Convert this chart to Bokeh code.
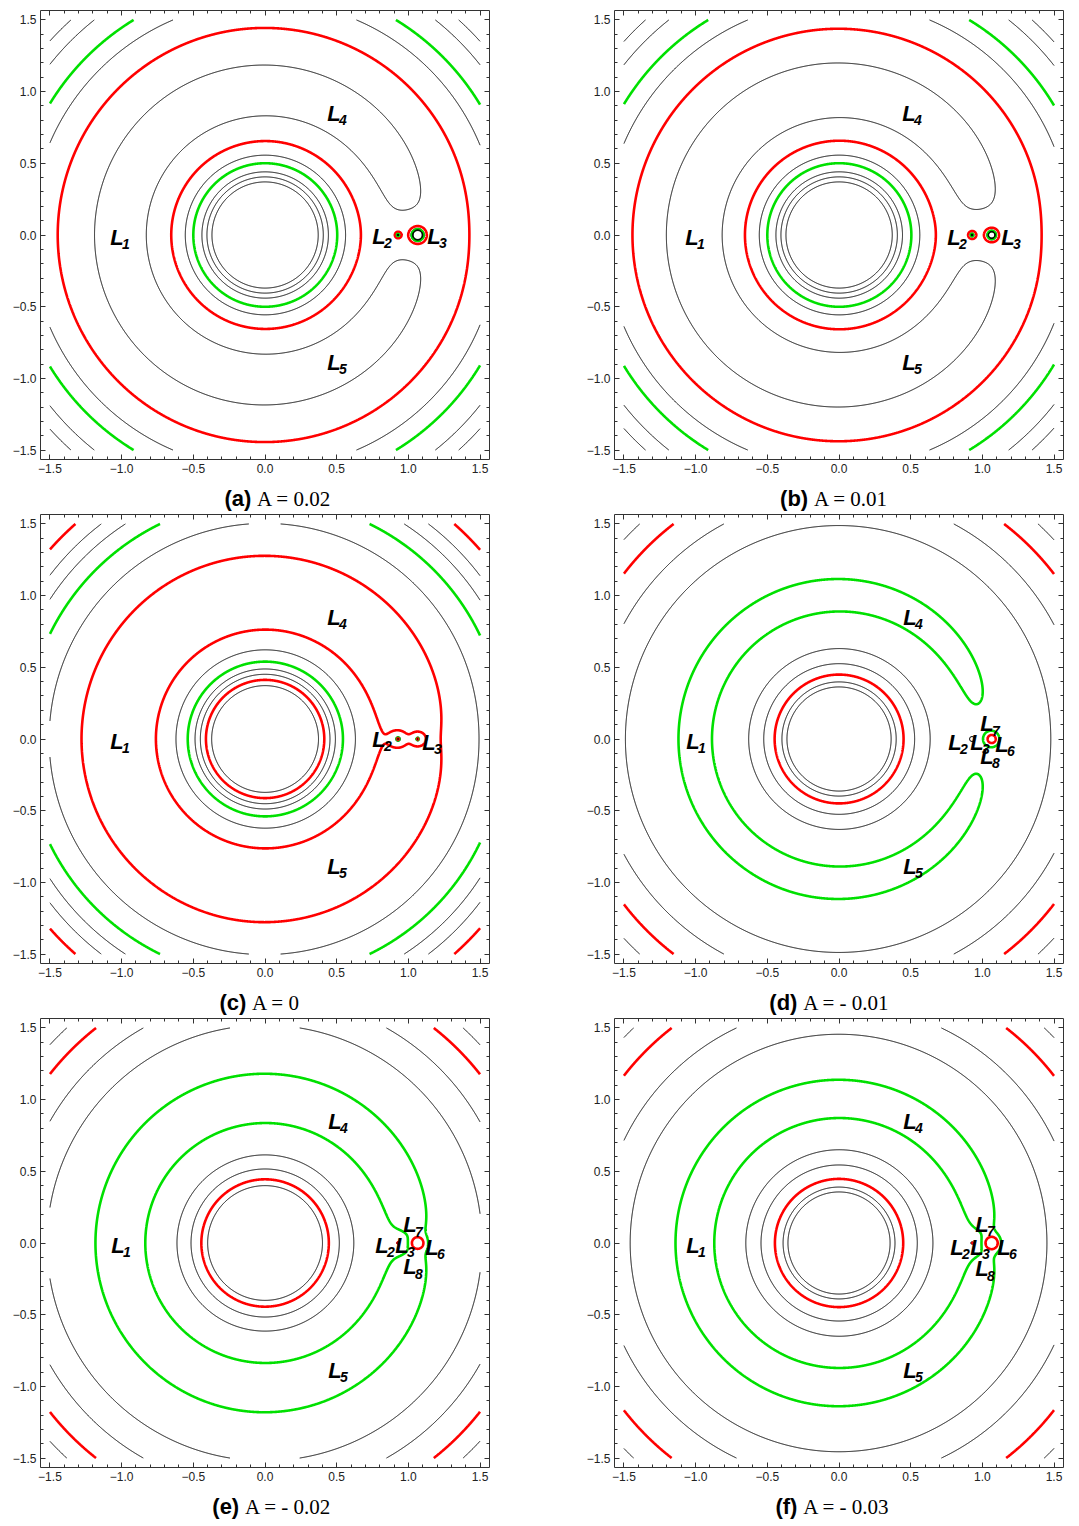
import numpy as np
from bokeh.plotting import figure
from bokeh.models import Range1d, LinearAxis, FixedTicker, ColumnDataSource
from bokeh.layouts import column, row
from bokeh.embed import file_html
from bokeh.resources import INLINE
from bokeh.core.properties import value

# ---------------- data ----------------
panel_letters = ["a", "b", "c", "d", "e", "f"]
panel_caption = ["A = 0.02", "A = 0.01", "A = 0", "A = - 0.01", "A = - 0.02", "A = - 0.03"]

# field model: primary at the origin, secondary at secondary_x, small mass at inner_x
secondary_x = 1.065
inner_x = 0.928
secondary_mass = {"a": 0.005, "b": 0.007, "c": 0.0035, "d": 0.0065, "e": 0.002, "f": 0.0015}
secondary_quad = {"a": 3.1e-5, "b": 8e-6, "c": 0.0, "d": -1.85e-5, "e": -8e-6, "f": -8e-6}
inner_mass = {"a": 0.0043, "b": 0.005, "c": 0.0046, "d": 0.0, "e": 0.003, "f": 0.002}

# contour levels: radius at which each curve cuts the negative x axis, and its colour
level_radii = {
    "a": [0.37, 0.405, 0.44, 0.50, 0.556, 0.654, 0.828],
    "b": [0.37, 0.405, 0.44, 0.50, 0.556, 0.656, 0.815],
    "c": [0.372, 0.412, 0.451, 0.488, 0.539, 0.621, 0.761],
    "d": [0.363, 0.398, 0.449, 0.525, 0.630, 0.886],
    "e": [0.40, 0.444, 0.516, 0.614, 0.835],
    "f": [0.356, 0.39, 0.447, 0.544, 0.65, 0.87],
}
level_colors = {
    "a": ["k", "k", "k", "g", "k", "r", "k"],
    "b": ["k", "k", "k", "g", "k", "r", "k"],
    "c": ["k", "r", "k", "k", "g", "k", "r"],
    "d": ["k", "k", "r", "k", "k", "g"],
    "e": ["k", "r", "k", "k", "g"],
    "f": ["k", "k", "r", "k", "k", "g"],
}
# levels that only show up as small rings round the secondary (ring radius)
ring_radii = {"d": [0.028], "e": [0.040], "f": [0.042]}
ring_colors = {"d": ["r"], "e": ["r"], "f": ["r"]}

# equilibrium-point labels (x, y) per panel
point_names = {
    "a": ["1", "4", "5", "2", "3"],
    "b": ["1", "4", "5", "2", "3"],
    "c": ["1", "4", "5", "2", "3"],
    "d": ["1", "4", "5", "2", "3", "6", "7", "8"],
    "e": ["1", "4", "5", "2", "3", "6", "7", "8"],
    "f": ["1", "4", "5", "2", "3", "6", "7", "8"],
}
point_x = {
    "a": [-1.032, 0.481, 0.481, 0.795, 1.178],
    "b": [-1.025, 0.488, 0.488, 0.802, 1.178],
    "c": [-1.032, 0.481, 0.481, 0.795, 1.144],
    "d": [-1.018, 0.495, 0.495, 0.809, 0.962, 1.137, 1.032, 1.032],
    "e": [-1.025, 0.488, 0.488, 0.816, 0.955, 1.165, 1.011, 1.011],
    "f": [-1.018, 0.495, 0.495, 0.823, 0.962, 1.151, 0.997, 0.997],
}
point_y = {
    "a": [-0.014, 0.851, -0.886, -0.007, -0.007],
    "b": [-0.014, 0.851, -0.886, -0.014, -0.014],
    "c": [-0.014, 0.851, -0.886, 0.0, -0.021],
    "d": [-0.014, 0.851, -0.886, -0.021, -0.021, -0.035, 0.105, -0.119],
    "e": [-0.014, 0.851, -0.886, -0.014, -0.014, -0.028, 0.126, -0.167],
    "f": [-0.014, 0.851, -0.886, -0.028, -0.028, -0.028, 0.132, -0.181],
}
# small point mark near L2 where no ring is drawn
mark_x = {"d": 0.928}
mark_fill = {"d": "white"}
mark_size = {"d": 5}

caption_split = {"a": -0.085, "b": -0.205, "c": -0.12, "d": -0.28, "e": -0.17, "f": -0.28}

major_ticks = [-1.5, -1.0, -0.5, 0.0, 0.5, 1.0, 1.5]
tick_text = ["\u22121.5", "\u22121.0", "\u22120.5", "0.0", "0.5", "1.0", "1.5"]

# ---------------- helpers ----------------
COLOR = {"k": "#000000", "g": "#00e000", "r": "#ff0000"}
WIDTH = {"k": 1.0, "g": 2.6, "r": 2.6}


def omega(X, Y, key):
    m1 = secondary_mass[key]
    m2 = inner_mass[key]
    q = secondary_quad[key]
    r1 = np.maximum(np.hypot(X, Y), 0.02)
    r2 = np.maximum(np.hypot(X - secondary_x, Y), 0.002)
    r3 = np.maximum(np.hypot(X - inner_x, Y), 0.002)
    return (0.5 * (X ** 2 + Y ** 2) + (1 - m1 - m2) / r1 + m1 / r2
            + q / r2 ** 3 + m2 / r3)


gx = np.linspace(-1.5, 1.5, 1201)
GX, GY = np.meshgrid(gx, gx)

R = 1.566


def style_axis(ax, labels):
    ax.ticker = FixedTicker(ticks=major_ticks,
                            minor_ticks=list(np.round(np.arange(-1.5, 1.501, 0.1), 2)))
    ax.major_tick_in = 5
    ax.major_tick_out = 0
    ax.minor_tick_in = 3
    ax.minor_tick_out = 0
    ax.axis_line_color = "#333333"
    ax.major_tick_line_color = "#333333"
    ax.minor_tick_line_color = "#333333"
    ax.major_label_text_font = "Liberation Sans"
    if labels:
        ax.major_label_overrides = {t: s for t, s in zip(major_ticks, tick_text)}
        ax.major_label_text_color = "#222222"
        ax.major_label_text_font_size = "12px"
        ax.major_label_standoff = 4
    else:
        ax.major_label_text_color = None
        ax.major_label_text_font_size = "1px"
        ax.major_label_standoff = 0


def make_panel(i):
    key = panel_letters[i]
    left_col = (i % 2 == 0)
    p = figure(frame_width=449, frame_height=449,
               x_range=Range1d(-R, R), y_range=Range1d(-R, R),
               output_backend="svg", toolbar_location=None,
               min_border_left=40 if left_col else 80,
               min_border_right=45 if left_col else 16,
               min_border_top=10 if i < 2 else 0, min_border_bottom=20)
    p.grid.visible = False
    p.outline_line_color = None
    p.background_fill_color = "white"
    p.border_fill_color = "white"

    style_axis(p.below[0], True)
    style_axis(p.left[0], True)
    top = LinearAxis()
    right = LinearAxis()
    style_axis(top, False)
    style_axis(right, False)
    p.add_layout(top, "above")
    p.add_layout(right, "right")

    Z = omega(GX, GY, key)
    lv = [float(omega(np.array(-r), np.array(0.0), key)) for r in level_radii[key]]
    cl = list(level_colors[key])
    for r, c in zip(ring_radii.get(key, []), ring_colors.get(key, [])):
        lv.append(float(omega(np.array(secondary_x + r), np.array(0.0), key)))
        cl.append(c)
    order = np.argsort(lv)
    levels = [lv[j] for j in order]
    cols = [COLOR[cl[j]] for j in order]
    wids = [WIDTH[cl[j]] for j in order]
    p.contour(gx, gx, Z, levels, line_color=cols, line_width=wids)

    if key in mark_x:
        p.scatter([mark_x[key]], [0.0], size=mark_size[key], fill_color=mark_fill[key],
                  line_color="black", line_width=1)

    src = ColumnDataSource(dict(x=point_x[key], y=point_y[key],
                                L=["L"] * len(point_names[key]), n=point_names[key]))
    p.text("x", "y", text="L", source=src, text_font=value("Liberation Sans"),
           text_font_style="bold italic", text_font_size="22px",
           text_align="center", text_baseline="middle", text_color="black")
    p.text("x", "y", text="n", source=src, text_font=value("Liberation Sans"),
           text_font_style="bold italic", text_font_size="14px",
           text_align="left", text_baseline="middle", text_color="black",
           x_offset=5, y_offset=7)
    return p


def make_caption(i):
    key = panel_letters[i]
    left_col = (i % 2 == 0)
    c = figure(frame_width=449, frame_height=35,
               x_range=Range1d(-R, R), y_range=Range1d(0, 35),
               output_backend="svg", toolbar_location=None,
               x_axis_type=None, y_axis_type=None,
               min_border_left=40 if left_col else 80,
               min_border_right=45 if left_col else 16,
               min_border_top=0, min_border_bottom=0)
    c.grid.visible = False
    c.outline_line_color = None
    c.background_fill_color = "white"
    c.border_fill_color = "white"
    c.text([caption_split[key] - 0.01], [16], text=["(" + key + ")"],
           text_font=value("Liberation Sans"), text_font_style="bold",
           text_font_size="22px", text_align="right", text_baseline="middle",
           text_color="black")
    c.text([caption_split[key] + 0.03], [16], text=[panel_caption[i]],
           text_font=value("Liberation Serif"), text_font_size="21px",
           text_align="left", text_baseline="middle", text_color="black")
    return c


panels = [make_panel(i) for i in range(6)]
caps = [make_caption(i) for i in range(6)]
layout = column(row(panels[0], panels[1]), row(caps[0], caps[1]),
                row(panels[2], panels[3]), row(caps[2], caps[3]),
                row(panels[4], panels[5]), row(caps[4], caps[5]))

open("out.html", "w").write(file_html(layout, INLINE))
